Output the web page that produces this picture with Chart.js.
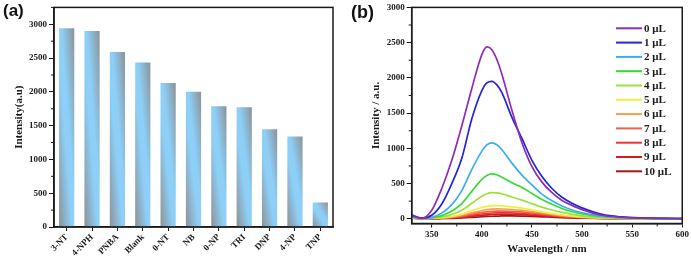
<!DOCTYPE html>
<html><head><meta charset="utf-8">
<script src="https://cdn.jsdelivr.net/npm/chart.js@4.4.1/dist/chart.umd.min.js"></script>
<style>
html,body{margin:0;padding:0;background:#fff;}
#wrap{position:relative;width:691px;height:256px;overflow:hidden;background:#fff;}
canvas{position:absolute;top:0;}
#ca{left:0;} #cb{left:345px;}
.panel{position:absolute;font-family:"Liberation Sans",Arial,sans-serif;font-weight:bold;line-height:1;color:#111;}
</style></head><body>
<div id="wrap">
<canvas id="ca" width="345" height="256"></canvas>
<canvas id="cb" width="346" height="256"></canvas>
<div class="panel" style="left:3px;top:2px;font-size:17px">(a)</div>
<div class="panel" style="left:351px;top:3px;font-size:18px">(b)</div>
</div>
<script>
// ---------- Panel (a) data ----------
const categories = ['3-NT','4-NPH','PNBA','Blank','0-NT','NB','0-NP','TRI','DNP','4-NP','TNP'];
const intensity = [2940, 2900, 2590, 2435, 2130, 2000, 1787, 1773, 1445, 1340, 362];
const yTicksA = [0, 500, 1000, 1500, 2000, 2500, 3000];
const yMinorA = [250, 750, 1250, 1750, 2250, 2750, 3250];

// ---------- Panel (b) data ----------
const wavelength = [330,340,350,360,370,380,390,400,405,410,415,420,430,440,450,460,470,480,490,500,520,540,560,580,600];
const s0uL  = [45, 5,120,430,830,1320,1850,2330,2440,2400,2260,2050,1540,1080,740,520,370,260,190,130,50,22,10,5,2];
const s1uL  = [55,10, 50,210,500, 860,1420,1820,1930,1950,1900,1790,1440,1140,830,600,430,305,220,155,62,26,12,6,3];
const s2uL  = [30, 8, 20, 80,200, 400, 700, 960,1050,1078,1050, 980, 790, 620,480,350,255,180,125, 85,38,16, 8,4,2];
const s3uL  = [25, 8, 15, 45,110, 215, 390, 560, 615, 636, 625, 590, 510, 445,360,275,205,145,100, 68,30,13, 6,3,1];
const s4uL  = [20, 6, 10, 25, 60, 120, 220, 320, 355, 370, 368, 355, 310, 265,215,165,125, 90, 62, 42,18, 8, 4,2,1];
const s5uL  = [18, 5,  8, 15, 35,  65, 115, 160, 175, 183, 185, 182, 170, 150,125,100, 75, 55, 38, 26,12, 5, 3,2,1];
const s6uL  = [15, 4,  6, 12, 25,  50,  85, 118, 130, 137, 140, 139, 132, 120,102, 82, 62, 45, 32, 22,10, 5, 2,1,0];
const s7uL  = [14, 4,  5, 10, 20,  38,  65,  90, 100, 106, 110, 110, 106,  98, 85, 68, 52, 38, 27, 19, 9, 4, 2,1,0];
const s8uL  = [12, 3,  4,  8, 15,  28,  48,  68,  76,  82,  85,  86,  84,  78, 68, 55, 42, 31, 22, 15, 7, 3, 2,1,0];
const s9uL  = [10, 3,  3,  6, 11,  20,  35,  50,  56,  61,  64,  65,  64,  60, 53, 43, 33, 24, 17, 12, 6, 3, 1,1,0];
const s10uL = [ 8, 2,  2,  4,  7,  12,  20,  29,  33,  36,  38,  40,  40,  38, 34, 28, 22, 16, 12,  8, 4, 2, 1,1,0];
const seriesLabels = ['0 μL','1 μL','2 μL','3 μL','4 μL','5 μL','6 μL','7 μL','8 μL','9 μL','10 μL'];
const seriesColors = ['#8E2CB8','#2424DC','#3AAEF0','#33DC33','#9CE23A','#F0F03C','#F0A050','#F06055','#F03232','#DC1818','#A01818'];
const series = [s0uL,s1uL,s2uL,s3uL,s4uL,s5uL,s6uL,s7uL,s8uL,s9uL,s10uL];
const xTicksB = [350,400,450,500,550,600];
const xMinorB = [375,425,475,525,575];
const yTicksB = [0,500,1000,1500,2000,2500,3000];
const yMinorB = [250,750,1250,1750,2250,2750];

// ---------- shared styling ----------
const ink = '#1a1a1a';
const serif = 'Liberation Serif';
const barBlue = 'rgb(141,207,247)';
const barGray = 'rgb(140,146,152)';
const plain = v => String(v);

const gradientBars = {
  id: 'gradientBars',
  beforeDatasetsDraw(chart) {
    const ctx = chart.ctx;
    chart.getDatasetMeta(0).data.forEach(el => {
      const p = el.getProps(['x','y','width','base'], true);
      const left = p.x - p.width / 2;
      const top = Math.min(p.y, p.base), bottom = Math.max(p.y, p.base);
      const w = p.width, h = bottom - top;
      if (h <= 0 || w <= 0) return;
      const k = 2 * w * h / (h * h + w * w);
      const g = ctx.createLinearGradient(left, bottom, left + k * h, bottom - k * w);
      g.addColorStop(0, barGray);
      g.addColorStop(0.42, barBlue);
      g.addColorStop(0.58, barBlue);
      g.addColorStop(1, barGray);
      el.options = Object.assign({}, el.options, {backgroundColor: g});
    });
  }
};

const frame = {
  id: 'frame',
  afterDraw(chart, args, opts) {
    const {ctx, chartArea: a} = chart;
    ctx.save();
    ctx.strokeStyle = ink;
    ctx.lineWidth = 1.5;
    ctx.strokeRect(a.left, a.top, a.right - a.left, a.bottom - a.top);
    (opts.minor || []).forEach(m => {
      const s = chart.scales[m.axis];
      m.values.forEach(v => {
        const px = s.getPixelForValue(v);
        ctx.beginPath();
        ctx.lineWidth = 1;
        if (m.axis === 'y') {
          if (px < a.top - 0.5 || px > a.bottom + 0.5) return;
          ctx.moveTo(a.left - 3, px); ctx.lineTo(a.left, px);
        } else {
          ctx.moveTo(px, a.bottom); ctx.lineTo(px, a.bottom + 3);
        }
        ctx.stroke();
      });
    });
    ctx.restore();
  }
};

const legendB = {
  id: 'legendB',
  afterDraw(chart) {
    const ctx = chart.ctx;
    ctx.save();
    ctx.font = 'bold 11px "' + serif + '"';
    ctx.textBaseline = 'middle';
    ctx.textAlign = 'left';
    chart.data.datasets.forEach((d, i) => {
      const y = 28.3 + i * 14.3;
      ctx.strokeStyle = d.borderColor;
      ctx.lineWidth = 2;
      ctx.beginPath(); ctx.moveTo(271, y); ctx.lineTo(297, y); ctx.stroke();
      ctx.fillStyle = ink;
      ctx.fillText(d.label, 299, y + 0.5);
    });
    ctx.restore();
  }
};

const tickFont = {family: serif, weight: 'bold', size: 9};
const titleFont = {family: serif, weight: 'bold', size: 11};

// ---------- Chart (a) ----------
new Chart(document.getElementById('ca'), {
  type: 'bar',
  data: {labels: categories, datasets: [{data: intensity, backgroundColor: barBlue, borderWidth: 0, barPercentage: 0.6, categoryPercentage: 1}]},
  options: {
    responsive: false, animation: false, events: [],
    layout: {padding: {left: 0, top: 3, right: 12, bottom: 0}},
    plugins: {legend: {display: false}, tooltip: {enabled: false}, frame: {minor: [{axis: 'y', values: yMinorA}]}},
    scales: {
      x: {
        grid: {display: true, drawOnChartArea: false, drawTicks: true, tickLength: 4, color: ink, offset: false},
        border: {color: ink, width: 1.5},
        ticks: {maxRotation: 45, minRotation: 45, autoSkip: false, padding: 1, color: ink, font: tickFont},
        afterFit(s) { s.height = 29; }
      },
      y: {
        min: 0, max: 3250,
        afterBuildTicks(s) { s.ticks = yTicksA.map(v => ({value: v})); },
        grid: {drawOnChartArea: false, tickLength: 5, color: ink},
        border: {color: ink, width: 1.5},
        ticks: {padding: 2, color: ink, font: tickFont, callback: plain},
        title: {display: true, text: 'Intensity(a.u)', color: ink, font: titleFont, padding: {top: 13, bottom: 0}},
        afterFit(s) { s.width = 54; }
      }
    }
  },
  plugins: [gradientBars, frame]
});

// ---------- Chart (b) ----------
new Chart(document.getElementById('cb'), {
  type: 'line',
  data: {
    datasets: series.map((s, i) => ({
      label: seriesLabels[i],
      data: wavelength.map((w, j) => ({x: w, y: s[j]})),
      borderColor: seriesColors[i],
      borderWidth: 1.7,
      pointRadius: 0,
      fill: false,
      cubicInterpolationMode: 'monotone'
    }))
  },
  options: {
    responsive: false, animation: false, events: [],
    layout: {padding: {left: 0, top: 4.5, right: 8, bottom: 0}},
    plugins: {legend: {display: false}, tooltip: {enabled: false}, frame: {minor: [{axis: 'y', values: yMinorB}, {axis: 'x', values: xMinorB}]}},
    scales: {
      x: {
        type: 'linear', min: 330, max: 600,
        afterBuildTicks(s) { s.ticks = xTicksB.map(v => ({value: v})); },
        grid: {drawOnChartArea: false, tickLength: 4, color: ink},
        border: {color: ink, width: 1.5},
        ticks: {padding: 2, color: ink, font: tickFont, maxRotation: 0, callback: plain},
        title: {display: true, text: 'Wavelength / nm', color: ink, font: titleFont, padding: {top: 0, bottom: 0}},
        afterFit(s) { s.height = 32.5; }
      },
      y: {
        min: -67, max: 3000,
        afterBuildTicks(s) { s.ticks = yTicksB.map(v => ({value: v})); },
        grid: {drawOnChartArea: false, tickLength: 5, color: ink},
        border: {color: ink, width: 1.5},
        ticks: {padding: 2, color: ink, font: tickFont, callback: plain},
        title: {display: true, text: 'Intensity / a.u.', color: ink, font: titleFont, padding: {top: 25, bottom: 0}},
        afterFit(s) { s.width = 66.7; }
      }
    }
  },
  plugins: [frame, legendB]
});
</script>
</body></html>
